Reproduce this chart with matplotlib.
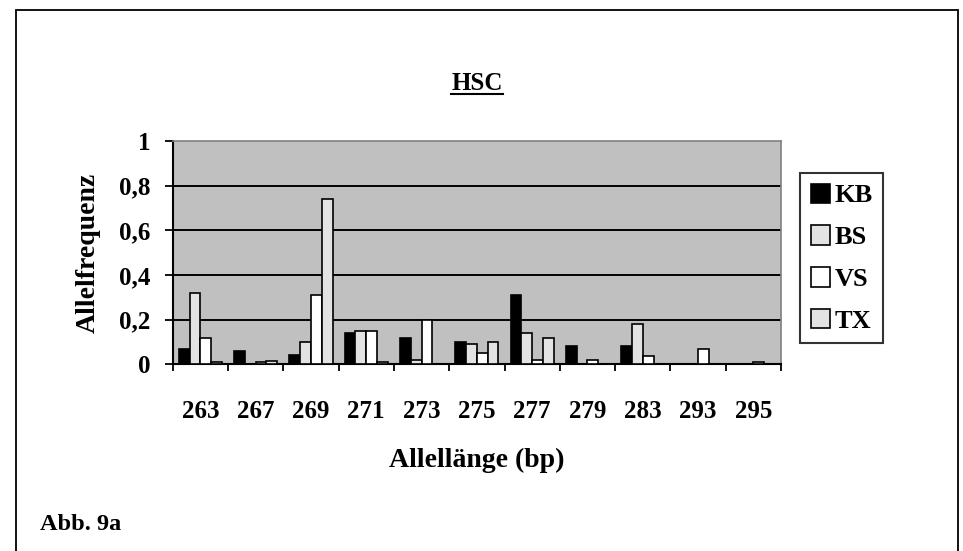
import matplotlib
matplotlib.use("Agg")
import matplotlib.pyplot as plt
import numpy as np
from matplotlib.patches import Rectangle
from matplotlib.lines import Line2D

categories = ['263', '267', '269', '271', '273', '275', '277', '279', '283', '293', '295']
series_names = ['KB', 'BS', 'VS', 'TX']
KB = [0.07, 0.06, 0.04, 0.14, 0.12, 0.10, 0.31, 0.08, 0.08, 0.0, 0.0]
BS = [0.32, 0.0, 0.10, 0.15, 0.02, 0.09, 0.14, 0.0, 0.18, 0.0, 0.0]
VS = [0.12, 0.01, 0.31, 0.15, 0.20, 0.05, 0.02, 0.02, 0.035, 0.07, 0.01]
TX = [0.01, 0.015, 0.74, 0.01, 0.0, 0.10, 0.12, 0.0, 0.0, 0.0, 0.0]
yticks = [0, 0.2, 0.4, 0.6, 0.8, 1.0]
ytick_labels = ['0', '0,2', '0,4', '0,6', '0,8', '1']
title = 'HSC'
xlabel = 'Allellänge (bp)'
ylabel = 'Allelfrequenz'
caption = 'Abb. 9a'

colors = ['#000000', '#e3e3e3', '#ffffff', '#e3e3e3']
FONT = 'Liberation Serif'
plt.rcParams['font.family'] = [FONT, 'DejaVu Serif']
plt.rcParams['font.weight'] = 'bold'

W, H = 963, 551
fig = plt.figure(figsize=(W / 100, H / 100), dpi=100)
fig.patch.set_facecolor('white')

# outer frame
fig.patches.append(Rectangle((16 / W, -0.1), (958 - 16) / W, 1.1 - 10 / H,
                             transform=fig.transFigure, fill=False,
                             edgecolor='black', linewidth=1.3, clip_on=False))

ax_l, ax_r, ax_t, ax_b = 172.7, 781, 141, 364.3
ax = fig.add_axes([ax_l / W, 1 - ax_b / H, (ax_r - ax_l) / W, (ax_b - ax_t) / H])
ax.set_facecolor('#c0c0c0')

x = np.arange(len(categories))
bw = 0.195
data = [KB, BS, VS, TX]
for j, (name, vals) in enumerate(zip(series_names, data)):
    ax.bar(x + (j - 1.5) * bw, vals, width=bw, color=colors[j],
           edgecolor='black', linewidth=1.2, label=name, zorder=3)

for yt in yticks:
    if 0 < yt < 1:
        ax.axhline(yt, color='black', linewidth=1.4, zorder=1)

ax.set_xlim(-0.5, len(categories) - 0.5)
ax.set_ylim(0, 1)
ax.set_yticks(yticks)
ax.set_yticklabels(ytick_labels, fontsize=18, fontweight='bold')
ax.set_xticks(np.arange(len(categories) + 1) - 0.5)
ax.set_xticklabels([])
ax.set_xticks(x, minor=True)
ax.set_xticklabels(categories, minor=True, fontsize=18, fontweight='bold')
ax.tick_params(axis='x', which='minor', length=0, pad=26)
ax.tick_params(axis='x', which='major', direction='out', length=5, width=1.3)
ax.tick_params(axis='y', direction='out', length=6, width=1.3, pad=10)

for s in ['left', 'bottom']:
    ax.spines[s].set_color('black')
    ax.spines[s].set_linewidth(1.5)
for s in ['top', 'right']:
    ax.spines[s].set_color('#808080')
    ax.spines[s].set_linewidth(1.2)

fig.text(88 / W, 1 - 253 / H, ylabel, rotation=90, ha='center', va='center',
         fontsize=20, fontweight='bold')
fig.text(477 / W, 1 - 460 / H, xlabel, ha='center', va='center',
         fontsize=20, fontweight='bold')
t = fig.text(477 / W, 1 - 84 / H, title, ha='center', va='center',
             fontsize=18, fontweight='bold')
fig.text(40 / W, 1 - 524 / H, caption, ha='left', va='center',
         fontsize=17.5, fontweight='bold')

leg = fig.legend(loc='upper left', bbox_to_anchor=(800 / W, 1 - 173 / H),
                 bbox_transform=fig.transFigure, frameon=True, fancybox=False,
                 prop={'family': FONT, 'weight': 'bold', 'size': 19},
                 handlelength=0.75, handleheight=0.75, handletextpad=0.15,
                 labelspacing=0.68, borderpad=0.4, borderaxespad=0)
leg.get_frame().set_edgecolor('black')
leg.get_frame().set_linewidth(1.5)

fig.canvas.draw()
bb = t.get_window_extent(renderer=fig.canvas.get_renderer())
inv = fig.transFigure.inverted()
(x0, y0), (x1, y1) = inv.transform([(bb.x0, bb.y0), (bb.x1, bb.y1)])
fig.lines.append(Line2D([x0, x1], [y0 + 0.002, y0 + 0.002], transform=fig.transFigure,
                        color='black', linewidth=1.5))

fig.savefig('out.png', dpi=100)
